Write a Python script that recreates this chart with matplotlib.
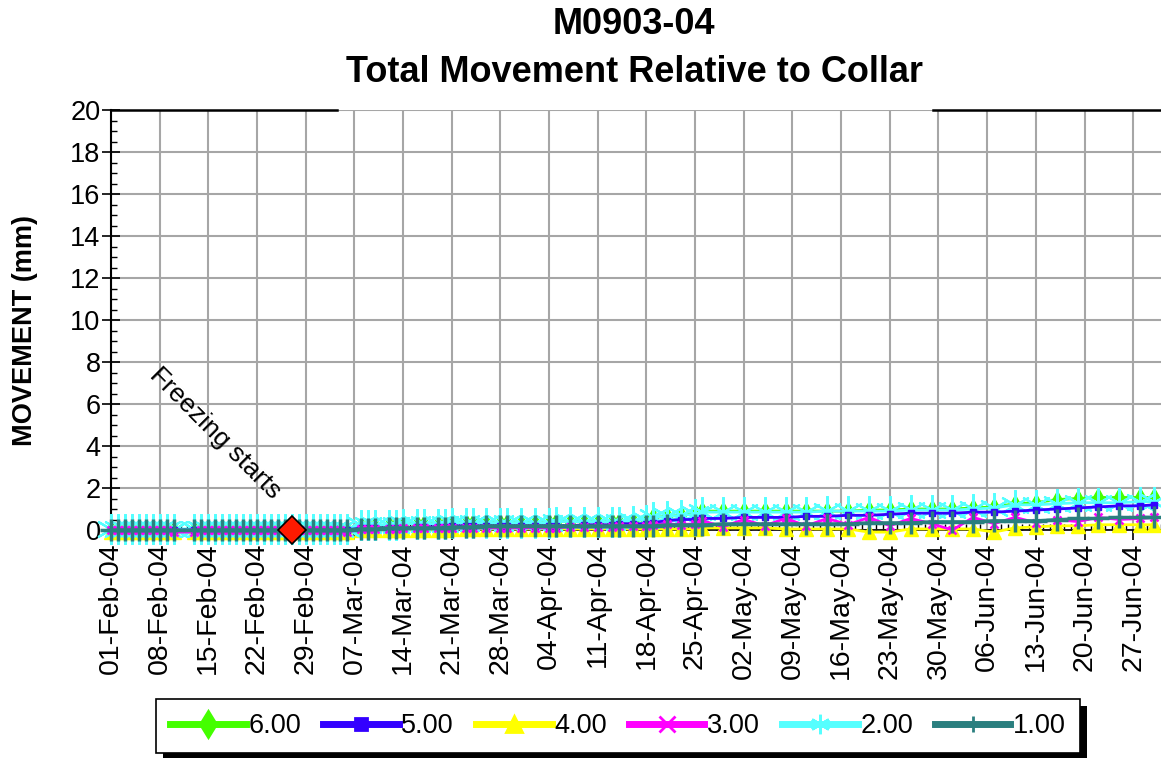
#!/usr/bin/env python3
"""Total movement relative to collar for inclinometer M0903-04."""

import numpy as np
import matplotlib
matplotlib.use("Agg")
import matplotlib.pyplot as plt
import matplotlib.dates as mdates
from matplotlib.lines import Line2D
from matplotlib.patches import Rectangle

plt.rcParams["font.family"] = ["Liberation Sans", "DejaVu Sans"]

# ── Data ──────────────────────────────────────────────────────────────────────

START = np.datetime64("2004-02-01")
END = np.datetime64("2004-07-01")

# reading dates, as days after 01-Feb-04
DAYS = [
    0, 1, 2, 3, 4, 5, 6, 7, 8, 9,
    12, 13, 14, 15, 16, 17, 18, 19, 20, 21,
    22, 23, 24, 25, 26, 27, 28, 29, 30, 31,
    32, 33, 34, 36, 37, 38, 40, 41, 42, 44,
    45, 47, 48, 49, 51, 52, 54, 56, 57, 59,
    61, 63, 64, 66, 68, 70, 72, 73, 75, 77,
    78, 80, 82, 84, 85, 88, 91, 94, 97, 100,
    103, 106, 109, 112, 115, 118, 121, 124, 127, 130,
    133, 136, 139, 142, 145, 148, 150,
]

# movement (mm) at each depth
MOVE_600 = [
    0, 0, 0, 0, 0, 0, 0, 0, 0, 0,
    0, 0, 0, 0, 0, 0, 0, 0, 0, 0,
    0, 0, 0, 0, 0, 0, 0, 0, 0, 0,
    0, 0, 0, 0.2, 0.2, 0.2, 0.25, 0.25, 0.3, 0.3,
    0.3, 0.3, 0.3, 0.35, 0.35, 0.35, 0.35, 0.35, 0.35, 0.35,
    0.35, 0.35, 0.4, 0.4, 0.4, 0.4, 0.4, 0.4, 0.45, 0.5,
    0.6, 0.65, 0.7, 0.8, 0.9, 0.9, 0.9, 0.9, 0.9, 0.9,
    0.9, 0.9, 0.95, 0.95, 1.0, 1.0, 1.0, 1.05, 1.1, 1.25,
    1.3, 1.45, 1.5, 1.55, 1.55, 1.55, 1.55,
]
MOVE_500 = [
    0, 0, 0, 0, 0, 0, 0, 0, 0, 0,
    0, 0, 0, 0, 0, 0, 0, 0, 0, 0,
    0, 0, 0, 0, 0, 0, 0, 0, 0, 0,
    0, 0, 0, 0.1, 0.1, 0.1, 0.1, 0.1, 0.1, 0.15,
    0.15, 0.15, 0.15, 0.2, 0.2, 0.2, 0.2, 0.2, 0.2, 0.2,
    0.2, 0.2, 0.2, 0.2, 0.25, 0.25, 0.25, 0.3, 0.3, 0.3,
    0.35, 0.45, 0.5, 0.5, 0.55, 0.55, 0.6, 0.6, 0.6, 0.65,
    0.65, 0.7, 0.7, 0.75, 0.8, 0.8, 0.8, 0.85, 0.85, 0.9,
    0.95, 1.0, 1.05, 1.1, 1.15, 1.15, 1.2,
]
MOVE_400 = [
    -0.1, -0.1, -0.1, -0.1, -0.1, -0.1, -0.1, -0.1, -0.1, -0.1,
    -0.1, -0.1, -0.1, -0.1, -0.1, -0.1, -0.1, -0.1, -0.1, -0.1,
    -0.1, -0.1, -0.1, -0.1, -0.1, -0.1, -0.1, -0.1, -0.1, -0.1,
    -0.1, -0.1, -0.1, 0, 0, 0, 0, 0, 0, 0,
    0, 0, 0, 0.05, 0.05, 0.05, 0.05, 0.05, 0.05, 0.05,
    0.05, 0.05, 0.05, 0.05, 0.05, 0.05, 0.05, 0.05, 0.05, 0.05,
    0.05, 0.05, 0.05, 0.05, 0.1, 0.1, 0.1, 0.1, 0.05, 0.05,
    0.05, 0.05, -0.1, -0.1, 0.05, 0.05, 0.05, 0.05, -0.1, 0.1,
    0.15, 0.2, 0.2, 0.25, 0.25, 0.25, 0.25,
]
MOVE_300 = [
    0, 0, 0, 0, 0, 0, 0, 0, 0, -0.1,
    -0.1, 0, 0, 0, 0, 0, 0, 0, 0, 0,
    0, 0, 0, 0, 0, 0, 0, 0, 0, 0,
    0, 0, -0.1, 0.05, 0.05, 0.05, 0.05, 0.05, 0.1, 0.1,
    0.1, 0.1, 0.1, 0.1, 0.1, 0.1, 0.1, 0.1, 0.1, 0.1,
    0.1, 0.1, 0.1, 0.15, 0.15, 0.15, 0.15, 0.2, 0.2, 0.2,
    0.25, 0.3, 0.25, 0.3, 0.45, 0.15, 0.5, 0.2, 0.55, 0.2,
    0.55, 0.25, 0.6, 0.2, 0.55, 0.3, 0.0, 0.6, 0.3, 0.6,
    0.35, 0.5, 0.4, 0.6, 0.5, 0.55, 0.6,
]
MOVE_200 = [
    0.05, 0.05, 0.05, 0.05, 0.05, 0.05, 0.05, 0.05, 0.05, 0.05,
    0.05, 0.05, 0.05, 0.05, 0.05, 0.05, 0.05, 0.05, 0.05, 0.05,
    0.05, 0.05, 0.05, 0.05, 0.05, 0.05, 0.05, 0.05, 0.05, 0.05,
    0.05, 0.05, 0.05, 0.25, 0.25, 0.25, 0.25, 0.25, 0.3, 0.3,
    0.3, 0.3, 0.3, 0.35, 0.35, 0.35, 0.35, 0.35, 0.35, 0.35,
    0.35, 0.35, 0.4, 0.4, 0.4, 0.4, 0.4, 0.4, 0.45, 0.5,
    0.6, 0.65, 0.7, 0.75, 0.85, 0.85, 0.85, 0.85, 0.85, 0.85,
    0.9, 0.9, 0.9, 0.9, 0.95, 0.95, 0.95, 1.0, 1.05, 1.2,
    1.2, 1.25, 1.3, 1.3, 1.3, 1.35, 1.35,
]
MOVE_100 = [
    0, 0, 0, 0, 0, 0, 0, 0, 0, 0,
    0, 0, 0, 0, 0, 0, 0, 0, 0, 0,
    0, 0, 0, 0, 0, 0, 0, 0, 0, 0,
    0, 0, 0, 0.05, 0.05, 0.05, 0.1, 0.1, 0.1, 0.1,
    0.1, 0.1, 0.1, 0.15, 0.15, 0.15, 0.2, 0.2, 0.2, 0.2,
    0.2, 0.2, 0.2, 0.2, 0.2, 0.2, 0.2, 0.2, 0.2, 0.2,
    0.2, 0.25, 0.25, 0.25, 0.25, 0.3, 0.3, 0.3, 0.3, 0.3,
    0.3, 0.3, 0.35, 0.35, 0.35, 0.4, 0.4, 0.4, 0.45, 0.45,
    0.45, 0.5, 0.55, 0.55, 0.6, 0.6, 0.6,
]

FREEZE_DAY = 26
FREEZE_MOVE = 0.0

# ── Styles ────────────────────────────────────────────────────────────────────
# drawing order (bottom to top); legend order is 6.00 → 1.00
STYLES = {
    "6.00": dict(values=MOVE_600, color="#44ff00", marker="d", ms=9, mew=1),
    "4.00": dict(values=MOVE_400, color="#ffff00", marker="^", ms=10, mew=1),
    "2.00": dict(values=MOVE_200, color="#55ffff", marker=(6, 2, 0), ms=22, mew=1.6),
    "5.00": dict(values=MOVE_500, color="#3300ff", marker="s", ms=5, mew=1),
    "3.00": dict(values=MOVE_300, color="#ff00ff", marker="x", ms=6, mew=1.8),
    "1.00": dict(values=MOVE_100, color="#2a7f7f", marker="+", ms=16, mew=2.5),
}
LEGEND_ORDER = ["6.00", "5.00", "4.00", "3.00", "2.00", "1.00"]
LEGEND_MS = {"6.00": 13, "5.00": 9, "4.00": 12, "3.00": 11, "2.00": 14, "1.00": 12}

W, H = 1161, 758

fig = plt.figure(figsize=(W / 100, H / 100), dpi=100)
ax = fig.add_axes([111 / W, 1 - 530 / H, 1050 / W, 420 / H])

dates = START + np.array(DAYS, dtype="timedelta64[D]")

for z, (label, st) in enumerate(STYLES.items()):
    ax.plot(dates, st["values"], color=st["color"], linewidth=2,
            marker=st["marker"], markersize=st["ms"],
            markeredgewidth=st["mew"], markeredgecolor=st["color"],
            markerfacecolor=st["color"], clip_on=False, zorder=3 + z)

ax.plot([START + np.timedelta64(FREEZE_DAY, "D")], [FREEZE_MOVE],
        marker="D", markersize=14, color="#ff1a00", markeredgecolor="black",
        markeredgewidth=1.2, linestyle="none", clip_on=False, zorder=20)
ax.text(START + np.timedelta64(15, "D"), 4.6, "Freezing starts", rotation=-45,
        ha="center", va="center", fontsize=19, rotation_mode="anchor")

# ── Axes ──────────────────────────────────────────────────────────────────────
ax.set_xlim(START, END)
ax.set_ylim(0, 20)
ax.set_yticks(np.arange(0, 21, 2))
ax.set_yticks(np.arange(0, 20.01, 0.5), minor=True)
ax.xaxis.set_major_locator(mdates.WeekdayLocator(byweekday=mdates.SU))
ax.xaxis.set_minor_locator(mdates.DayLocator())
ax.xaxis.set_major_formatter(mdates.DateFormatter("%d-%b-%y"))
ax.tick_params(axis="x", which="major", direction="out", length=7, width=1.2,
               labelsize=20.5, labelrotation=90, pad=2)
ax.tick_params(axis="x", which="minor", direction="in", length=4, width=1)
ax.tick_params(axis="y", which="major", direction="inout", length=13, width=1.2,
               labelsize=19.5, pad=1)
ax.tick_params(axis="y", which="minor", direction="in", length=4.5, width=1)

ax.grid(True, which="major", color="#a6a6a6", linewidth=1.5)
ax.set_axisbelow(True)

for side in ("top", "right"):
    ax.spines[side].set_visible(False)
ax.spines["left"].set_linewidth(1.5)
ax.spines["bottom"].set_linewidth(1.2)
# top frame line is broken behind the title
for x0, x1 in [(0, 0.215), (0.783, 1)]:
    ax.plot([x0, x1], [1, 1], transform=ax.transAxes, color="black",
            linewidth=1.8, clip_on=False)

fig.text(25 / W, 1 - 330 / H, "MOVEMENT (mm)", rotation=90, ha="center",
         va="center", fontsize=19.5, fontweight="bold")
fig.text(634 / W, 1 - 25 / H, "M0903-04", ha="center", va="center",
         fontsize=26, fontweight="bold")
fig.text(634 / W, 1 - 72 / H, "Total Movement Relative to Collar",
         ha="center", va="center", fontsize=26, fontweight="bold")

# ── Legend with solid black drop shadow ───────────────────────────────────────
proxies = [Line2D([], [], color=STYLES[k]["color"], linewidth=5,
                  marker=STYLES[k]["marker"], markersize=LEGEND_MS[k],
                  markeredgewidth=2, markeredgecolor=STYLES[k]["color"],
                  markerfacecolor=STYLES[k]["color"]) for k in LEGEND_ORDER]
leg = fig.legend(proxies, LEGEND_ORDER, ncol=6,
                 loc="center", bbox_to_anchor=(618 / W, 1 - 726 / H),
                 fontsize=19.5, frameon=True, fancybox=False, edgecolor="black",
                 framealpha=1, handlelength=2.8, handletextpad=0.1,
                 columnspacing=0.8, borderpad=0.5, borderaxespad=0)
leg.get_frame().set_linewidth(1.2)
leg.set_zorder(10)

fig.canvas.draw()
bb = leg.get_window_extent()
fig.add_artist(Rectangle(((bb.x0 + 7) / W, (bb.y0 - 7) / H), bb.width / W,
                         bb.height / H, transform=fig.transFigure,
                         facecolor="black", edgecolor="none", zorder=9))

fig.savefig("out.png", dpi=100)
